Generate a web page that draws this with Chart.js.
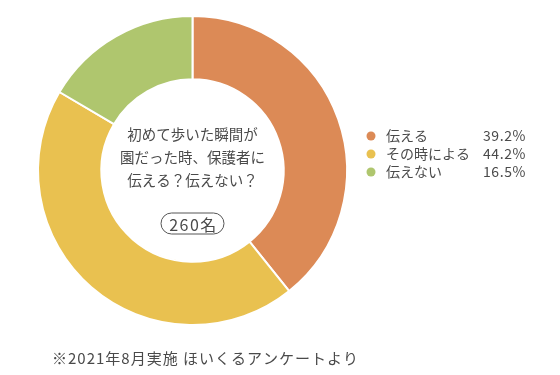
<!DOCTYPE html>
<html>
<head>
<meta charset="utf-8">
<script src="https://cdn.jsdelivr.net/npm/chart.js@4"></script>
<style>
  html, body { margin: 0; padding: 0; background: #fff; }
  #chart { display: block; }
</style>
</head>
<body>
<canvas id="chart" width="560" height="375"></canvas>
<script>
const labels = ["伝える", "その時による", "伝えない"];
const values = [39.2, 44.2, 16.5];
const colors = ["#dc8a56", "#e9c150", "#afc66e"];
const centerLines = ["初めて歩いた瞬間が", "園だった時、保護者に", "伝える？伝えない？"];
const totalLabel = "260名";
const footnote = "※2021年8月実施 ほいくるアンケートより";

const font = '"Noto Sans CJK JP", "Noto Sans", sans-serif';
const textColor = "#4a4a4a";

const overlay = {
    id: "overlay",
    afterDraw(chart) {
        const ctx = chart.ctx;
        const meta = chart.getDatasetMeta(0);
        const cx = meta.data[0].x, cy = meta.data[0].y;
        ctx.save();
        ctx.fillStyle = textColor;
        ctx.textBaseline = "middle";

        // center text
        ctx.textAlign = "center";
        ctx.font = "14.5px " + font;
        centerLines.forEach((t, i) => ctx.fillText(t, cx, cy - 36 + i * 23));

        // count pill
        ctx.font = "16px " + font;
        ctx.letterSpacing = "1.5px";
        const py = cy + 53;
        const w = 63, h = 21;
        ctx.strokeStyle = "#555";
        ctx.lineWidth = 1;
        ctx.beginPath();
        ctx.roundRect(cx - w / 2, py - h / 2, w, h, h / 2);
        ctx.stroke();
        ctx.fillText(totalLabel, cx + 1, py + 1);
        ctx.letterSpacing = "0px";

        // legend
        ctx.font = "14px " + font;
        labels.forEach((l, i) => {
            const y = 136 + i * 18;
            ctx.fillStyle = colors[i];
            ctx.beginPath();
            ctx.arc(371, y, 4.5, 0, Math.PI * 2);
            ctx.fill();
            ctx.fillStyle = textColor;
            ctx.textAlign = "left";
            ctx.fillText(l, 386, y);
            ctx.textAlign = "right";
            ctx.letterSpacing = "0.6px";
            ctx.fillText(values[i].toFixed(1) + "%", 526, y);
            ctx.letterSpacing = "0px";
        });

        // footnote
        ctx.textAlign = "left";
        ctx.font = "15px " + font;
        ctx.letterSpacing = "1px";
        ctx.fillText(footnote, 52, 358);
        ctx.restore();
    }
};

new Chart(document.getElementById("chart"), {
    type: "doughnut",
    data: {
        labels: labels,
        datasets: [{
            data: values,
            backgroundColor: colors,
            borderColor: "#fff",
            borderWidth: 2,
        }],
    },
    options: {
        responsive: false,
        animation: false,
        cutout: "59%",
        layout: { padding: { left: 37, top: 15, right: 212, bottom: 49 } },
        plugins: {
            legend: { display: false },
            tooltip: { enabled: false },
        },
    },
    plugins: [overlay],
});
</script>
</body>
</html>
